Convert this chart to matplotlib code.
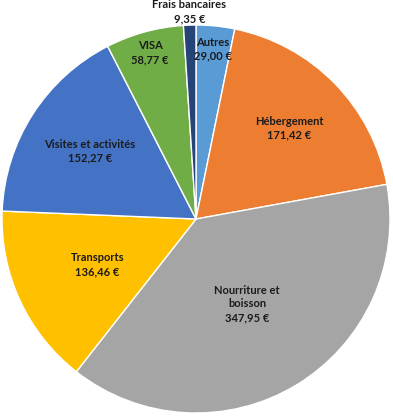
import matplotlib
matplotlib.use("Agg")
import matplotlib.pyplot as plt
import numpy as np

categories = ["Autres", "Hébergement", "Nourriture et\nboisson", "Transports",
              "Visites et activités", "VISA", "Frais bancaires"]
values = [29.00, 171.42, 347.95, 136.46, 152.27, 58.77, 9.35]
colors = ["#5B9BD5", "#ED7D31", "#A5A5A5", "#FFC000", "#4472C4", "#70AD47", "#264478"]
label_radius = [0.88, 0.67, 0.51, 0.56, 0.65, 0.89, 1.07]

plt.rcParams['font.family'] = ['Lato', 'DejaVu Sans']

W, H = 393, 418
fig = plt.figure(figsize=(W / 100, H / 100), dpi=100)
cx, cy, R = 196, 219, 194
ax = fig.add_axes([(cx - R) / W, (H - cy - R) / H, 2 * R / W, 2 * R / H])

wedges, _ = ax.pie(values, colors=colors, startangle=90, counterclock=False,
                   radius=1.0, wedgeprops=dict(edgecolor="white", linewidth=1.0))
ax.set_xlim(-1, 1)
ax.set_ylim(-1, 1)
ax.set_aspect("equal")
ax.axis("off")

def fmt(v):
    return f"{v:.2f}".replace(".", ",") + " €"

for w, cat, v, r in zip(wedges, categories, values, label_radius):
    ang = np.deg2rad((w.theta1 + w.theta2) / 2)
    x, y = r * np.cos(ang), r * np.sin(ang)
    ax.text(x, y, f"{cat}\n{fmt(v)}", ha="center", va="center",
            fontsize=8, fontweight="bold", color="#1b1b1b",
            linespacing=1.3, clip_on=False)

fig.savefig("out.png", dpi=100, facecolor="white")
